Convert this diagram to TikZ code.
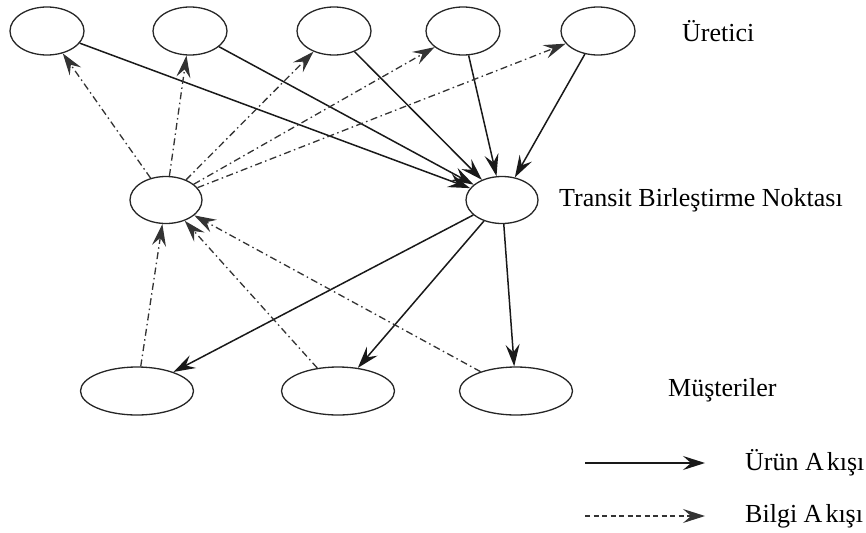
\documentclass[tikz,border=0pt]{standalone}
\usepackage{fontspec}
\setmainfont{Liberation Serif}
\usetikzlibrary{arrows.meta,shapes.geometric}

\tikzset{
  site/.style={draw=black!85, line width=1.3pt, ellipse, inner sep=0pt,
               minimum width=74pt, minimum height=48pt},
  hub/.style={site, minimum width=72pt, minimum height=47pt},
  client/.style={site, minimum width=113pt, minimum height=48pt},
  tag/.style={anchor=west, inner sep=0pt, font=\fontsize{26}{30}\selectfont},
  tip/.style={-{Stealth[length=22pt,width=14pt,inset=8pt]}},
  goods/.style={tip, draw=black!90, line width=1.5pt},
  info/.style={tip, draw=black!80, line width=1.3pt,
               dash pattern=on 7pt off 3.5pt on 1.5pt off 3.5pt},
  infolegend/.style={tip, draw=black!80, line width=1.2pt,
               dash pattern=on 5pt off 3.5pt}
}

\begin{document}
\begin{tikzpicture}[x=1pt,y=-1pt]
  \useasboundingbox (0,0) rectangle (866,532);

  % producers
  \node[site] (p1) at (47,31) {};
  \node[site] (p2) at (190,31) {};
  \node[site] (p3) at (334,31) {};
  \node[site] (p4) at (463,31) {};
  \node[site] (p5) at (598,31) {};

  % information hub and transit consolidation point
  \node[hub] (i) at (166,200) {};
  \node[hub] (t) at (502,200) {};

  % customers
  \node[client] (c1) at (137,391) {};
  \node[client] (c2) at (338,391) {};
  \node[client] (c3) at (516,391) {};

  % labels
  \node[tag] (lp) at (682,31) {Üretici};
  \node[tag] (lt) at (559,200) {Transit Birleştirme Noktası};
  \node[tag] (lc) at (668,390) {Müşteriler};

  % product flow
  \foreach \p in {p1,p2,p3,p4,p5} \draw[goods] (\p) -- (t);
  \foreach \c in {c1,c2,c3} \draw[goods] (t) -- (\c);

  % information flow
  \foreach \p in {p1,p2,p3,p4,p5} \draw[info] (i) -- (\p);
  \foreach \c in {c1,c2,c3} \draw[info] (\c) -- (i);

  % legend
  \coordinate (g0) at (585,463);
  \coordinate (g1) at (705,463);
  \coordinate (b0) at (585,516);
  \coordinate (b1) at (705,516);
  \draw[goods] (g0) -- (g1);
  \draw[infolegend] (b0) -- (b1);
  \node[tag] (lg) at (745,463) {Ürün A\kern3pt kışı};
  \node[tag] (lb) at (745,516) {Bilgi A\kern3pt kışı};
\end{tikzpicture}
\end{document}
